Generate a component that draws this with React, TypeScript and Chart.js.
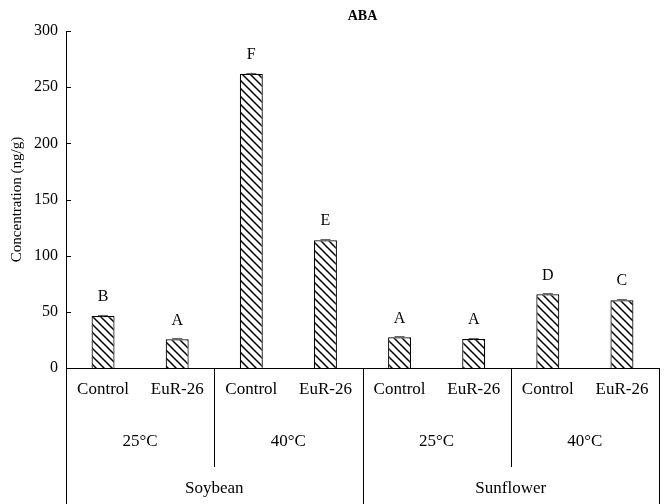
import React, { useEffect, useRef } from "react";
import { Chart, registerables } from "chart.js";
Chart.register(...registerables);

const categories = ["Control", "EuR-26", "Control", "EuR-26", "Control", "EuR-26", "Control", "EuR-26"];
const temperatures = ["25°C", "40°C", "25°C", "40°C"];
const crops = ["Soybean", "Sunflower"];
const values = [46.3, 25.5, 262, 113.7, 27.3, 25.8, 65.6, 60.3];
const errors = [1, 0.8, 1, 1.2, 0.8, 0.8, 1, 1];
const letters = ["B", "A", "F", "E", "A", "A", "D", "C"];
const yTicks = [0, 50, 100, 150, 200, 250, 300];
const chartTitle = "ABA";
const yTitle = "Concentration (ng/g)";

const FONT = "'Liberation Serif', 'DejaVu Serif', serif";

function makePattern(): CanvasPattern | string {
  const c = document.createElement("canvas");
  const s = 8;
  c.width = s;
  c.height = s;
  const g = c.getContext("2d");
  if (!g) return "#fff";
  g.fillStyle = "#fff";
  g.fillRect(0, 0, s, s);
  g.strokeStyle = "#000";
  g.lineWidth = 1.5;
  g.beginPath();
  g.moveTo(-2, -2);
  g.lineTo(s + 2, s + 2);
  g.moveTo(-2, s - 2);
  g.lineTo(2, s + 2);
  g.moveTo(s - 2, -2);
  g.lineTo(s + 2, 2);
  g.stroke();
  return g.createPattern(c, "repeat") || "#fff";
}

const overlayPlugin = {
  id: "overlay",
  afterDraw(chart: any) {
    const ctx = chart.ctx;
    const x = chart.scales.x;
    const y = chart.scales.y;
    const area = chart.chartArea;
    ctx.save();
    ctx.fillStyle = "#000";
    ctx.strokeStyle = "#000";
    ctx.lineWidth = 1;

    // inward y ticks
    yTicks.forEach((t) => {
      const py = Math.round(y.getPixelForValue(t)) + 0.5;
      ctx.beginPath();
      ctx.moveTo(area.left, py);
      ctx.lineTo(area.left + 5, py);
      ctx.stroke();
    });

    // title
    ctx.font = `bold 14px ${FONT}`;
    ctx.textAlign = "center";
    ctx.textBaseline = "middle";
    ctx.fillText(chartTitle, (area.left + area.right) / 2, 16);

    // y title
    ctx.save();
    ctx.font = `15px ${FONT}`;
    ctx.translate(17, (area.top + area.bottom) / 2);
    ctx.rotate(-Math.PI / 2);
    ctx.fillText(yTitle, 0, 0);
    ctx.restore();

    // error bars + letters
    const meta = chart.getDatasetMeta(0);
    meta.data.forEach((bar: any, i: number) => {
      const cx = bar.x;
      const top = y.getPixelForValue(values[i] + errors[i]);
      const bot = y.getPixelForValue(values[i] - errors[i]);
      ctx.strokeStyle = "#666";
      ctx.beginPath();
      ctx.moveTo(cx, top);
      ctx.lineTo(cx, bot);
      ctx.moveTo(cx - 5, Math.round(top) + 0.5);
      ctx.lineTo(cx + 5, Math.round(top) + 0.5);
      ctx.stroke();
      ctx.fillStyle = "#000";
      ctx.font = `16px ${FONT}`;
      ctx.textAlign = "center";
      ctx.textBaseline = "middle";
      ctx.fillText(letters[i], cx, y.getPixelForValue(values[i]) - 19);
    });

    // hierarchical x labels
    const px = (i: number) => x.getPixelForValue(i);
    const edge = (i: number) => {
      if (i <= 0) return area.left;
      if (i >= categories.length) return area.right;
      return (px(i - 1) + px(i)) / 2;
    };
    ctx.strokeStyle = "#000";
    ctx.fillStyle = "#000";
    ctx.font = `17px ${FONT}`;
    categories.forEach((c, i) => {
      ctx.fillText(c, px(i), area.bottom + 22);
    });
    temperatures.forEach((t, k) => {
      const cx = (px(2 * k) + px(2 * k + 1)) / 2;
      ctx.fillText(t, cx, area.bottom + 74);
    });
    crops.forEach((c, k) => {
      const cx = (px(4 * k) + px(4 * k + 3)) / 2;
      ctx.fillText(c, cx, area.bottom + 121);
    });
    // dividers
    [2, 6].forEach((i) => {
      const ex = Math.round(edge(i)) + 0.5;
      ctx.beginPath();
      ctx.moveTo(ex, area.bottom);
      ctx.lineTo(ex, area.bottom + 99);
      ctx.stroke();
    });
    [0, 4, 8].forEach((i) => {
      const ex = Math.round(edge(i)) + 0.5;
      ctx.beginPath();
      ctx.moveTo(ex, area.bottom);
      ctx.lineTo(ex, chart.height);
      ctx.stroke();
    });
    ctx.restore();
  },
};

export default function App() {
  const ref = useRef<HTMLCanvasElement>(null);
  useEffect(() => {
    document.body.style.margin = "0";
    const canvas = ref.current;
    if (!canvas) return;
    const pattern = makePattern();
    const chart = new Chart(canvas, {
      type: "bar",
      data: {
        labels: categories,
        datasets: [
          {
            data: values,
            backgroundColor: pattern as any,
            borderColor: "#000",
            borderWidth: 1.2,
            categoryPercentage: 1,
            barPercentage: 0.31,
          },
        ],
      },
      options: {
        responsive: false,
        animation: false,
        devicePixelRatio: 1,
        layout: { padding: { top: 31, right: 9, bottom: 0, left: 0 } },
        plugins: {
          legend: { display: false },
          tooltip: { enabled: false },
          title: { display: false },
        },
        scales: {
          x: {
            type: "category",
            offset: true,
            grid: { display: false, drawTicks: false },
            ticks: { display: false },
            border: { display: true, color: "#000", width: 1 },
            afterFit: (s: any) => {
              s.height = 136;
            },
          },
          y: {
            min: 0,
            max: 300,
            grid: { display: false, drawTicks: false },
            border: { display: true, color: "#000", width: 1 },
            ticks: {
              stepSize: 50,
              padding: 8,
              color: "#000",
              font: { family: FONT, size: 16 },
            },
            afterFit: (s: any) => {
              s.width = 66;
            },
          },
        },
      },
      plugins: [overlayPlugin],
    });
    return () => chart.destroy();
  }, []);
  return (
    <div style={{ width: 668, height: 504 }}>
      <canvas ref={ref} width={668} height={504} style={{ display: "block" }} />
    </div>
  );
}
